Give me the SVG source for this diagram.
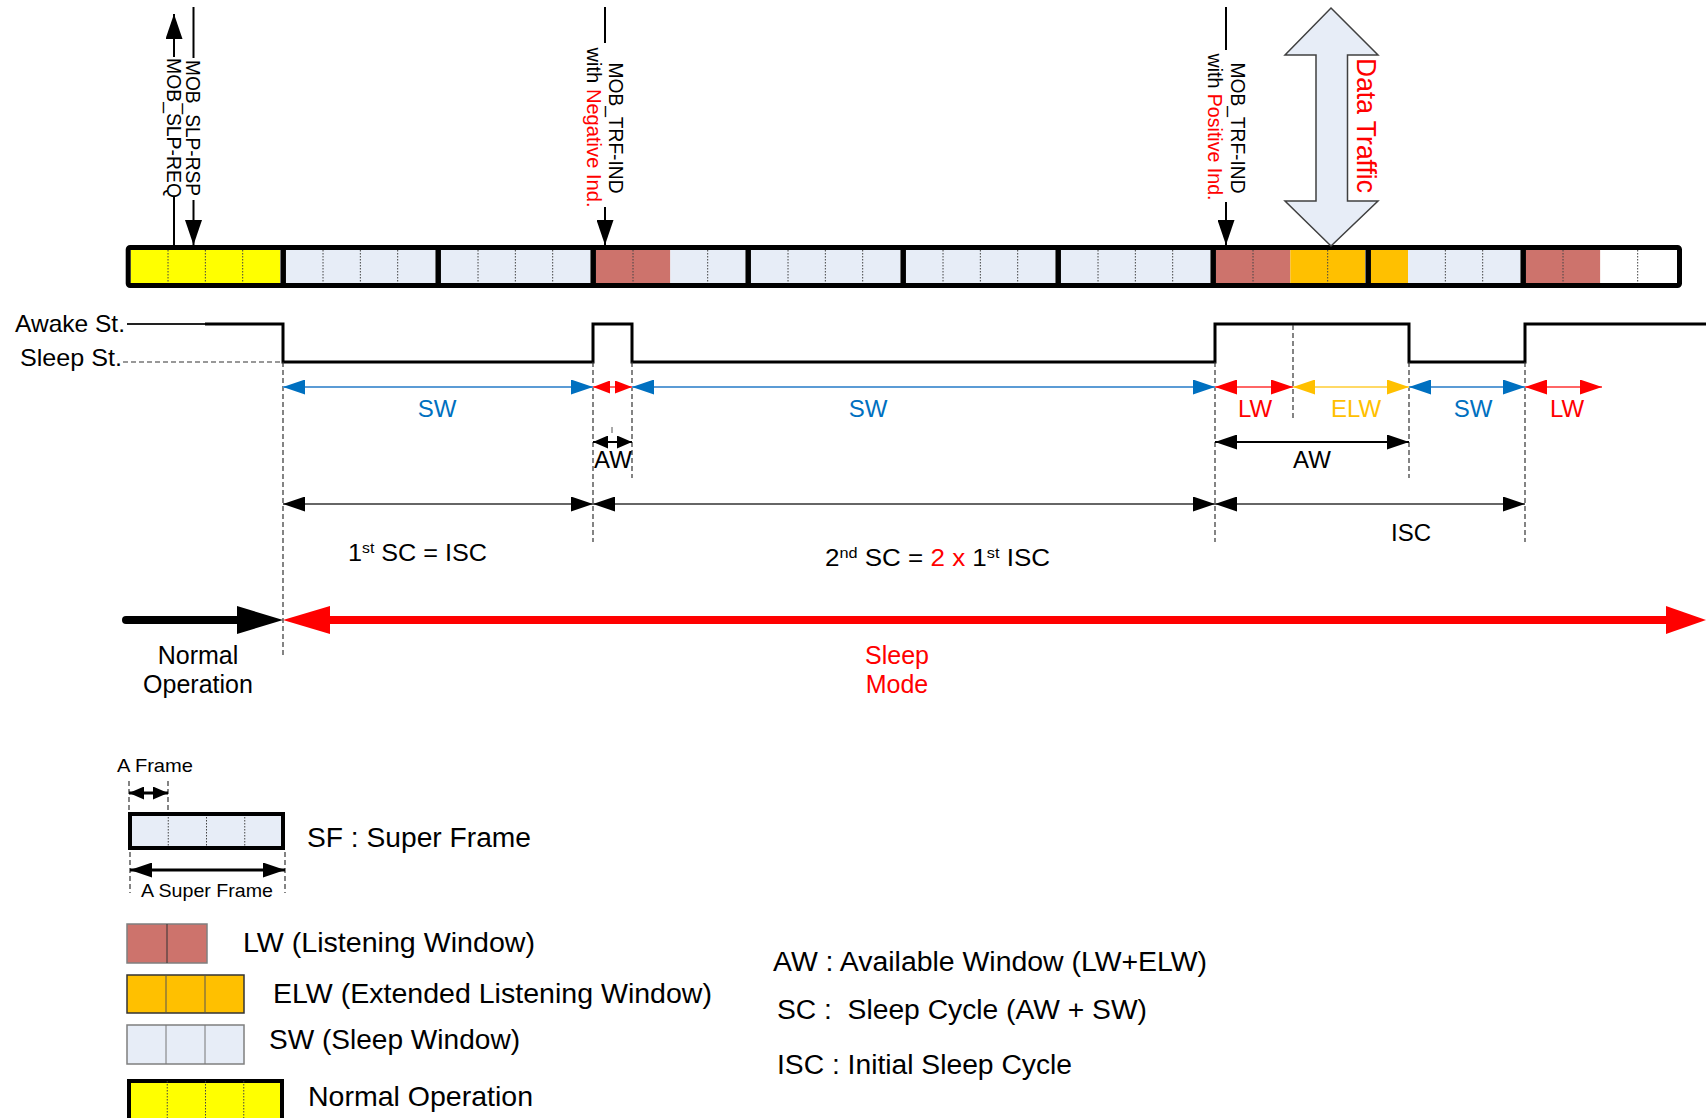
<svg xmlns="http://www.w3.org/2000/svg" width="1706" height="1118" viewBox="0 0 1706 1118">
<style>
text{font-family:"Liberation Sans",Arial,sans-serif;fill:#000}
.red{fill:#FF0000}
.blue{fill:#0070C0}
.org{fill:#FFC000}
.yel{fill:#FFFF00}
.sw{fill:#E7EDF7}
.lw{fill:#CD736C}
.elw{fill:#FFC000}
.wht{fill:#FFFFFF}
.div{stroke:#444;stroke-width:1;stroke-dasharray:1.5 1.5;fill:none}
.dash{stroke:#333;stroke-width:1.2;stroke-dasharray:5 3;fill:none}
.msg{stroke:#000;stroke-width:2;fill:none}
</style>
<defs>
<marker id="mBlue" markerUnits="userSpaceOnUse" markerWidth="22" markerHeight="15" refX="22" refY="7.5" orient="auto-start-reverse"><path d="M0,0 L22,7.5 L0,15 z" fill="#0070C0"/></marker>
<marker id="mRed" markerUnits="userSpaceOnUse" markerWidth="22" markerHeight="15" refX="22" refY="7.5" orient="auto-start-reverse"><path d="M0,0 L22,7.5 L0,15 z" fill="#FF0000"/></marker>
<marker id="mRedS" markerUnits="userSpaceOnUse" markerWidth="17" markerHeight="13" refX="17" refY="6.5" orient="auto-start-reverse"><path d="M0,0 L17,6.5 L0,13 z" fill="#FF0000"/></marker>
<marker id="mOrg" markerUnits="userSpaceOnUse" markerWidth="22" markerHeight="15" refX="22" refY="7.5" orient="auto-start-reverse"><path d="M0,0 L22,7.5 L0,15 z" fill="#FFC000"/></marker>
<marker id="mBlk" markerUnits="userSpaceOnUse" markerWidth="22" markerHeight="15" refX="22" refY="7.5" orient="auto-start-reverse"><path d="M0,0 L22,7.5 L0,15 z" fill="#000"/></marker>
<marker id="mBlkS" markerUnits="userSpaceOnUse" markerWidth="15" markerHeight="13" refX="15" refY="6.5" orient="auto-start-reverse"><path d="M0,0 L15,6.5 L0,13 z" fill="#000"/></marker>
<marker id="mMsg" markerUnits="userSpaceOnUse" markerWidth="25" markerHeight="17" refX="25" refY="8.5" orient="auto"><path d="M0,0 L25,8.5 L0,17 z" fill="#000"/></marker>
</defs>

<!-- Frame bar -->
<g id="frame-bar">
<rect class="yel" x="130.7" y="250" width="149.3" height="33"/>
<rect class="sw" x="285.7" y="250" width="149.3" height="33"/>
<rect class="sw" x="440.7" y="250" width="149.3" height="33"/>
<rect class="lw" x="595.7" y="249" width="74.65" height="35"/>
<rect class="sw" x="670.35" y="250" width="74.65" height="33"/>
<rect class="sw" x="750.7" y="250" width="149.3" height="33"/>
<rect class="sw" x="905.7" y="250" width="149.3" height="33"/>
<rect class="sw" x="1060.7" y="250" width="149.3" height="33"/>
<rect class="lw" x="1215.7" y="250" width="74.65" height="33"/>
<rect class="elw" x="1290.35" y="250" width="74.65" height="33"/>
<rect class="elw" x="1370.7" y="250" width="37.33" height="33"/>
<rect class="sw" x="1408.03" y="250" width="111.97" height="33"/>
<rect class="lw" x="1525.7" y="250" width="74.65" height="33"/>
<rect class="wht" x="1600.35" y="250" width="74.65" height="33"/>
<path class="div" d="M168.03,250V283M205.35,250V283M242.68,250V283M323.03,250V283M360.35,250V283M397.68,250V283M478.03,250V283M515.35,250V283M552.68,250V283M633.03,250V283M707.68,250V283M788.03,250V283M825.35,250V283M862.68,250V283M943.03,250V283M980.35,250V283M1017.68,250V283M1098.03,250V283M1135.35,250V283M1172.68,250V283M1253.03,250V283M1327.68,250V283M1445.35,250V283M1482.68,250V283M1563.03,250V283M1637.68,250V283"/>
<rect x="128.2" y="247.5" width="1551.3" height="38" rx="2" fill="none" stroke="#000" stroke-width="5"/>
<path d="M283.2,247.5V285.5M438.2,247.5V285.5M593.2,247.5V285.5M748.2,247.5V285.5M903.2,247.5V285.5M1058.2,247.5V285.5M1213.2,247.5V285.5M1368.2,247.5V285.5M1523.2,247.5V285.5" stroke="#000" stroke-width="5.5" fill="none"/>
</g>

<!-- Data traffic -->
<g id="data-traffic">
<polygon points="1331,8 1378,55 1347.5,55 1347.5,201 1378,201 1331,246 1285,201 1316,201 1316,55 1285,55" fill="#E7EDF7" stroke="#404040" stroke-width="1.5"/>
<text class="red" font-size="27" text-anchor="middle" textLength="135" lengthAdjust="spacingAndGlyphs" transform="translate(1357,125.5) rotate(90)">Data Traffic</text>
</g>

<!-- Messages -->
<g id="connectors">
<path class="msg" d="M174,246V197"/>
<path class="msg" d="M174,57V14" marker-end="url(#mMsg)"/>
<path class="msg" d="M193.5,7V58"/>
<path class="msg" d="M193.5,200V245" marker-end="url(#mMsg)"/>
<path class="msg" d="M605,7V43"/>
<path class="msg" d="M605,207V245" marker-end="url(#mMsg)"/>
<path class="msg" d="M1226,7V50"/>
<path class="msg" d="M1226,202V245" marker-end="url(#mMsg)"/>
</g>
<g id="msg-req"><text font-size="20" text-anchor="middle" textLength="140" lengthAdjust="spacingAndGlyphs" transform="translate(167,128) rotate(90)">MOB_SLP-REQ</text></g>
<g id="msg-rsp"><text font-size="20" text-anchor="middle" textLength="136" lengthAdjust="spacingAndGlyphs" transform="translate(186,128) rotate(90)">MOB_SLP-RSP</text></g>
<g id="msg-trf-neg">
<text font-size="20" text-anchor="middle" textLength="131" lengthAdjust="spacingAndGlyphs" transform="translate(609,128) rotate(90)">MOB_TRF-IND</text>
<text font-size="20" text-anchor="middle" textLength="160" lengthAdjust="spacingAndGlyphs" transform="translate(587,127.5) rotate(90)">with <tspan class="red">Negative Ind.</tspan></text>
</g>
<g id="msg-trf-pos">
<text font-size="20" text-anchor="middle" textLength="131" lengthAdjust="spacingAndGlyphs" transform="translate(1231,128) rotate(90)">MOB_TRF-IND</text>
<text font-size="20" text-anchor="middle" textLength="147" lengthAdjust="spacingAndGlyphs" transform="translate(1208,127) rotate(90)">with <tspan class="red">Positive Ind.</tspan></text>
</g>

<!-- State waveform -->
<g id="state">
<text x="15" y="332" font-size="24" textLength="110" lengthAdjust="spacingAndGlyphs">Awake St.</text>
<text x="20" y="366" font-size="24" textLength="102" lengthAdjust="spacingAndGlyphs">Sleep St.</text>
<path d="M127,324H205" stroke="#222" stroke-width="2" fill="none"/>
<path d="M205,324H283V362H593V324H632V362H1215V324H1409V362H1525V324H1706" stroke="#000" stroke-width="3" fill="none"/>
<path class="dash" d="M123,362H283"/>
</g>

<!-- Dashed guides -->
<g id="guides">
<path class="dash" d="M283,362V657M593,362V542M632,362V478M1215,362V542M1293,325V420M1409,362V478M1525,362V542"/>
</g>

<!-- Window arrows -->
<g id="window-arrows">
<line x1="283" y1="387" x2="593" y2="387" stroke="#5B9BD5" stroke-width="2" marker-start="url(#mBlue)" marker-end="url(#mBlue)"/>
<line x1="593" y1="387" x2="632" y2="387" stroke="#FF6666" stroke-width="2" marker-start="url(#mRedS)" marker-end="url(#mRedS)"/>
<line x1="632" y1="387" x2="1215" y2="387" stroke="#5B9BD5" stroke-width="2" marker-start="url(#mBlue)" marker-end="url(#mBlue)"/>
<line x1="1215" y1="387" x2="1293" y2="387" stroke="#FF6666" stroke-width="2" marker-start="url(#mRed)" marker-end="url(#mRed)"/>
<line x1="1293" y1="387" x2="1409" y2="387" stroke="#FFD966" stroke-width="2" marker-start="url(#mOrg)" marker-end="url(#mOrg)"/>
<line x1="1409" y1="387" x2="1525" y2="387" stroke="#5B9BD5" stroke-width="2" marker-start="url(#mBlue)" marker-end="url(#mBlue)"/>
<line x1="1525" y1="387" x2="1602" y2="387" stroke="#FF6666" stroke-width="2" marker-start="url(#mRed)" marker-end="url(#mRed)"/>
<line x1="593" y1="442" x2="632" y2="442" stroke="#000" stroke-width="2" marker-start="url(#mBlkS)" marker-end="url(#mBlkS)"/>
<line x1="612" y1="427" x2="612" y2="433" stroke="#555" stroke-width="1"/>
<line x1="1215" y1="442" x2="1409" y2="442" stroke="#000" stroke-width="2" marker-start="url(#mBlk)" marker-end="url(#mBlk)"/>
<line x1="283" y1="504" x2="593" y2="504" stroke="#666" stroke-width="2" marker-start="url(#mBlk)" marker-end="url(#mBlk)"/>
<line x1="593" y1="504" x2="1215" y2="504" stroke="#666" stroke-width="2" marker-start="url(#mBlk)" marker-end="url(#mBlk)"/>
<line x1="1215" y1="504" x2="1525" y2="504" stroke="#666" stroke-width="2" marker-start="url(#mBlk)" marker-end="url(#mBlk)"/>
</g>

<g id="window-labels" font-size="24" text-anchor="middle">
<text class="blue" x="437" y="417">SW</text>
<text class="blue" x="868" y="417">SW</text>
<text class="red" x="1255" y="417">LW</text>
<text class="org" x="1356" y="417">ELW</text>
<text class="blue" x="1473" y="417">SW</text>
<text class="red" x="1567" y="417">LW</text>
<text x="613" y="468">AW</text>
<text x="1312" y="468">AW</text>
<text x="1411" y="541">ISC</text>
</g>
<g id="cycle-labels" font-size="24">
<text x="348" y="561" textLength="139" lengthAdjust="spacingAndGlyphs">1<tspan font-size="15" dy="-8">st</tspan><tspan dy="8"> SC = ISC</tspan></text>
<text x="825" y="566" textLength="225" lengthAdjust="spacingAndGlyphs">2<tspan font-size="15" dy="-8">nd</tspan><tspan dy="8"> SC = </tspan><tspan class="red">2 x</tspan> 1<tspan font-size="15" dy="-8">st</tspan><tspan dy="8"> ISC</tspan></text>
</g>

<!-- Mode arrows -->
<g id="mode-arrows">
<line x1="126" y1="620" x2="240" y2="620" stroke="#000" stroke-width="8" stroke-linecap="round"/>
<polygon points="237,606 283,620 237,634" fill="#000"/>
<line x1="325" y1="620" x2="1670" y2="620" stroke="#FF0000" stroke-width="8"/>
<polygon points="283,620 330,606 330,634" fill="#FF0000"/>
<polygon points="1706,620 1666,606 1666,634" fill="#FF0000"/>
</g>
<g id="mode-labels" font-size="25" text-anchor="middle">
<text x="198" y="664">Normal</text>
<text x="198" y="693">Operation</text>
<text class="red" x="897" y="664">Sleep</text>
<text class="red" x="897" y="693">Mode</text>
</g>

<!-- Legend -->
<g id="legend-sf">
<text x="117" y="772" font-size="19" textLength="76" lengthAdjust="spacingAndGlyphs">A Frame</text>
<path class="dash" d="M129,781V811M168,781V811M130,852V893M285,852V893" stroke-dasharray="4 3"/>
<line x1="129" y1="793" x2="168" y2="793" stroke="#000" stroke-width="3" marker-start="url(#mBlkS)" marker-end="url(#mBlkS)"/>
<rect class="sw" x="130" y="814" width="153" height="34"/>
<path class="div" d="M168.25,814V848M206.5,814V848M244.75,814V848"/>
<rect x="130" y="814" width="153" height="34" fill="none" stroke="#000" stroke-width="4"/>
<text x="307" y="847" font-size="27" textLength="224" lengthAdjust="spacingAndGlyphs">SF : Super Frame</text>
<line x1="130" y1="870" x2="285" y2="870" stroke="#000" stroke-width="3" marker-start="url(#mBlk)" marker-end="url(#mBlk)"/>
<text x="141" y="897" font-size="19" textLength="132" lengthAdjust="spacingAndGlyphs">A Super Frame</text>
</g>
<g id="legend-lw">
<rect class="lw" x="127" y="924" width="80" height="39" stroke="#7F7F7F" stroke-width="1.5"/>
<path d="M167,924V963" stroke="#333" stroke-width="1"/>
<text x="243" y="952" font-size="28" textLength="292" lengthAdjust="spacingAndGlyphs">LW (Listening Window)</text>
</g>
<g id="legend-elw">
<rect class="elw" x="127" y="975" width="117" height="38" stroke="#333" stroke-width="1.5"/>
<path d="M166,975V1013M205,975V1013" stroke="#555" stroke-width="1"/>
<text x="273" y="1003" font-size="28" textLength="439" lengthAdjust="spacingAndGlyphs">ELW (Extended Listening Window)</text>
</g>
<g id="legend-sw">
<rect class="sw" x="127" y="1025" width="117" height="39" stroke="#7F7F7F" stroke-width="1.5"/>
<path d="M166,1025V1064M205,1025V1064" stroke="#777" stroke-width="1"/>
<text x="269" y="1049" font-size="28" textLength="251" lengthAdjust="spacingAndGlyphs">SW (Sleep Window)</text>
</g>
<g id="legend-normal">
<rect class="yel" x="129" y="1081" width="153" height="40" stroke="#000" stroke-width="4"/>
<path class="div" d="M167.25,1081V1118M205.5,1081V1118M243.75,1081V1118"/>
<text x="308" y="1106" font-size="28" textLength="225" lengthAdjust="spacingAndGlyphs">Normal Operation</text>
</g>
<g id="definitions" font-size="27">
<text x="773" y="971" textLength="434" lengthAdjust="spacingAndGlyphs">AW : Available Window (LW+ELW)</text>
<text x="777" y="1019" textLength="370" lengthAdjust="spacingAndGlyphs" xml:space="preserve">SC :  Sleep Cycle (AW + SW)</text>
<text x="777" y="1074" textLength="295" lengthAdjust="spacingAndGlyphs">ISC : Initial Sleep Cycle</text>
</g>
</svg>
